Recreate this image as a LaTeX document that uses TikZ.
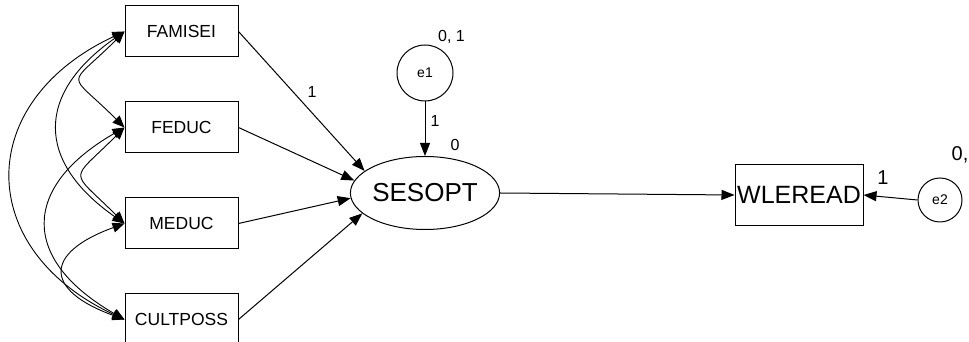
\documentclass[tikz,border=0pt]{standalone}
\usepackage{fontspec}
\setmainfont{Liberation Sans}
\usepackage{tikz}
\usetikzlibrary{positioning,arrows.meta,shapes.geometric}
\tikzset{
	obsbox/.style={draw=black, line width=1pt, minimum width=113pt, minimum height=51pt, inner sep=0pt, font=\fontsize{17.5}{20}\selectfont},
	latent/.style={draw=black, ellipse, line width=1pt, minimum width=130pt, minimum height=73pt, inner sep=0pt, font=\fontsize{26}{30}\selectfont},
	errterm/.style={draw=black, circle, line width=1pt, inner sep=0pt, font=\fontsize{14}{16}\selectfont},
	regpath/.style={draw=black, line width=1pt, -{Triangle[length=13pt,width=10pt]}},
	covarc/.style={draw=black, line width=0.9pt, {Triangle[length=12pt,width=10pt]}-{Triangle[length=12pt,width=10pt]}},
	wlabel/.style={font=\fontsize{16}{18}\selectfont},
	blabel/.style={font=\fontsize{20}{22}\selectfont}
}
\begin{document}
\begin{tikzpicture}[x=1pt,y=1pt]
	\useasboundingbox (0,0) rectangle (969,342);

	\node[obsbox] (famisei) at (181.5,310.5) {FAMISEI};
	\node[obsbox, below=44pt of famisei] (feduc) {FEDUC};
	\node[obsbox, below=44pt of feduc] (meduc) {MEDUC};
	\node[obsbox, below=44pt of meduc] (cultposs) {CULTPOSS};

	\node[latent] (sesopt) at (425,149) {SESOPT};
	\node[errterm, minimum size=56pt] (e1) at (425,269) {e1};
	\node[obsbox, minimum width=128pt, minimum height=61pt, font=\fontsize{25}{28}\selectfont] (wleread) at (799,147) {WLEREAD};
	\node[errterm, minimum size=44pt] (e2) at (940,142) {e2};

	% covariances
	\draw[covarc] (famisei.west) to[out=225,in=135,looseness=2.2] (feduc.west);
	\draw[covarc] (feduc.west) to[out=225,in=135,looseness=2.1] (meduc.west);
	\draw[covarc] (meduc.west) to[out=200,in=160,looseness=2.3] (cultposs.west);
	\draw[covarc] (famisei.west) to[out=215,in=145,looseness=1.45] (meduc.west);
	\draw[covarc] (feduc.west) to[out=210,in=150,looseness=1.6] (cultposs.west);
	\draw[covarc] (famisei.west) to[out=205,in=155,looseness=1.48] (cultposs.west);

	% regressions
	\draw[regpath] (famisei.east) -- (sesopt.160);
	\draw[regpath] (feduc.east) -- (sesopt.170);
	\draw[regpath] (meduc.east) -- (sesopt.184);
	\draw[regpath] (cultposs.east) -- (sesopt.198);
	\draw[regpath] (e1.south) -- (sesopt.north);
	\draw[regpath] (sesopt.east) -- (wleread.west);
	\draw[regpath] (e2.west) -- (wleread.east);

	% weights and means
	\node[wlabel] (w1) at (312,250) {1};
	\node[wlabel] (e1var) at (451.5,305) {0, 1};
	\node[wlabel] (e1w) at (435,221) {1};
	\node[wlabel] (sesmean) at (455,197) {0};
	\node[blabel] (e2w) at (883,164) {1};
	\node[blabel] (e2var) at (960,187) {0,};
\end{tikzpicture}
\end{document}
